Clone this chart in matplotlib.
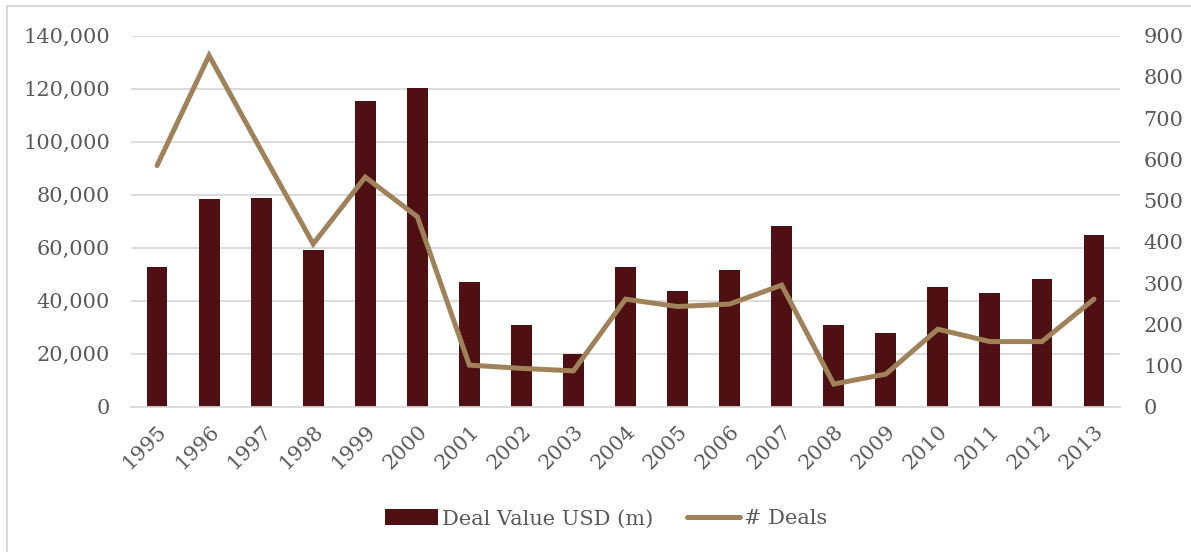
#!/usr/bin/env python3
"""
Deal value and number of deals by year, bar + line on twin axes
"""

import matplotlib
matplotlib.use('Agg')
import matplotlib.pyplot as plt
from matplotlib.patches import Rectangle
import numpy as np

years = ['1995', '1996', '1997', '1998', '1999', '2000', '2001', '2002', '2003', '2004',
         '2005', '2006', '2007', '2008', '2009', '2010', '2011', '2012', '2013']
deal_value = [52800, 78500, 78900, 59300, 115500, 120400, 46900, 30800, 20000, 52800,
              43700, 51600, 68200, 30800, 27900, 45300, 42800, 48200, 64800]
num_deals = [585, 852, 622, 395, 557, 461, 101, 93, 87, 261,
             243, 249, 295, 55, 79, 188, 158, 158, 261]

bar_color = '#4e1012'
line_color = '#a0825a'
text_color = '#595959'
grid_color = '#d9d9d9'

plt.rcParams['font.family'] = ['DejaVu Serif']

fig = plt.figure(figsize=(11.91, 5.52), dpi=100)
ax = fig.add_axes([0.110, 0.2632, 0.8304, 0.6721])
ax2 = ax.twinx()

x = np.arange(len(years))
ax.bar(x, deal_value, width=0.4, color=bar_color, label='Deal Value USD (m)', zorder=2)
ax2.plot(x, num_deals, color=line_color, lw=3.6, solid_capstyle='round',
         solid_joinstyle='miter', label='# Deals', zorder=3)

ax.set_xlim(-0.5, len(years) - 0.5)
ax.set_ylim(0, 140000)
ax2.set_ylim(0, 900)
ax.set_yticks(np.arange(0, 140001, 20000))
ax.set_yticklabels([f'{v:,}' for v in range(0, 140001, 20000)])
ax2.set_yticks(np.arange(0, 901, 100))

ax.set_xticks(x)
ax.set_xticklabels(years, rotation=45, ha='right', rotation_mode='anchor')

ax.yaxis.grid(True, color=grid_color, lw=1.3, zorder=0)
ax.set_axisbelow(True)
for a in (ax, ax2):
    for s in a.spines.values():
        s.set_visible(False)
    a.tick_params(length=0, colors=text_color, labelsize=15)
ax.spines['bottom'].set_visible(True)
ax.spines['bottom'].set_color(grid_color)
ax.spines['bottom'].set_linewidth(1.3)
ax.tick_params(axis='y', pad=15)
ax.tick_params(axis='x', pad=11)
ax2.tick_params(axis='y', pad=17)

h1, l1 = ax.get_legend_handles_labels()
h2, l2 = ax2.get_legend_handles_labels()
fig.legend(h1 + h2, l1 + l2, loc='center', bbox_to_anchor=(0.509, 0.06), ncol=2,
           frameon=False, fontsize=15, labelcolor=text_color, handlelength=2.55,
           handletextpad=0.2, columnspacing=1.6, handleheight=0.8)

# light frame around the chart area
fig.patches.append(Rectangle((7 / 1191, -0.05), 1.2, 1.05 - 6 / 552, transform=fig.transFigure,
                             fill=False, edgecolor=grid_color, lw=1.5))

plt.savefig('out.png', dpi=100)
